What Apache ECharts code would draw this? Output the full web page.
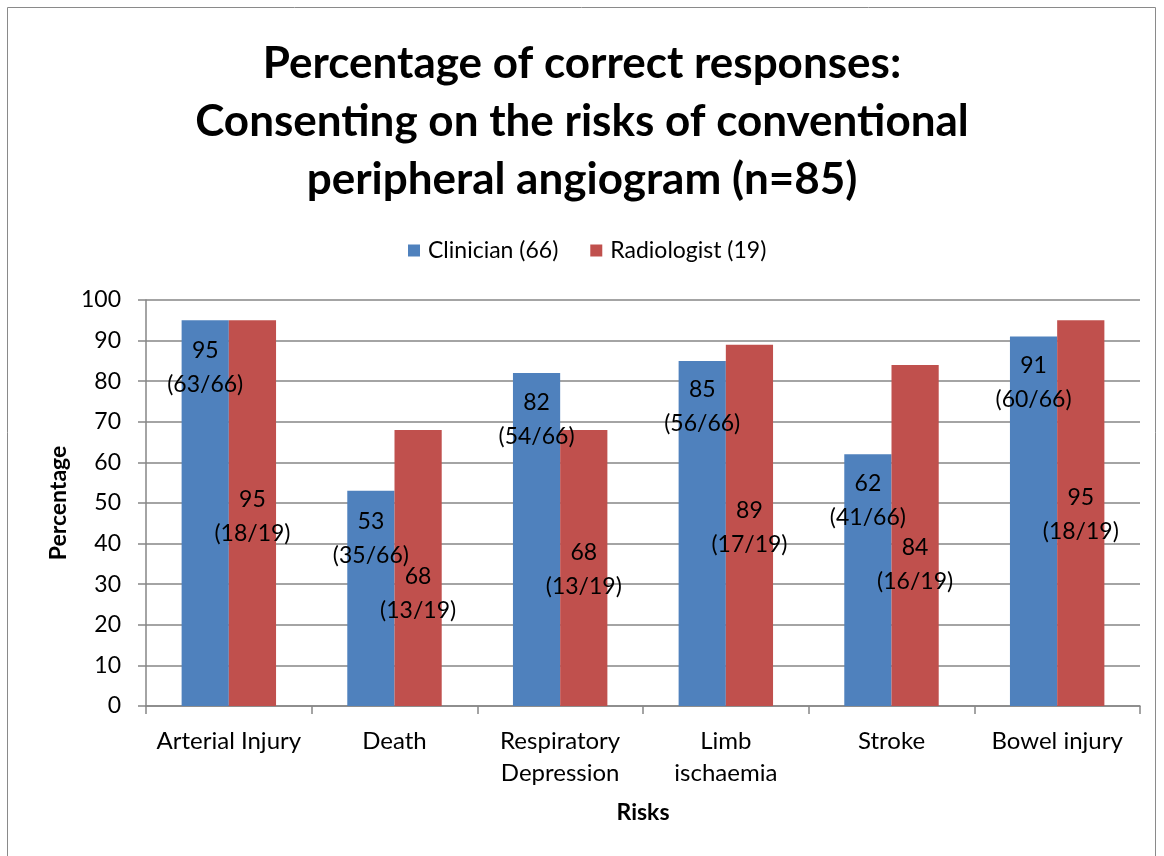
<!DOCTYPE html>
<html>
<head>
<meta charset="utf-8">
<script src="https://cdn.jsdelivr.net/npm/echarts@6/dist/echarts.min.js"></script>
<style>
  html, body { margin: 0; padding: 0; background: #fff; }
  #chart { width: 1164px; height: 856px; }
</style>
</head>
<body>
<div id="chart"></div>
<script>
// Datos
const risks = ['Arterial Injury', 'Death', 'Respiratory\nDepression', 'Limb\nischaemia', 'Stroke', 'Bowel injury'];
const clinicianPct = [95, 53, 82, 85, 62, 91];
const radiologistPct = [95, 68, 68, 89, 84, 95];
const clinicianCorrect = [63, 35, 54, 56, 41, 60];
const radiologistCorrect = [18, 13, 13, 17, 16, 18];
const clinicianN = 66;
const radiologistN = 19;

// Desplazamiento vertical de las etiquetas (px), como en el original
const clinicianShift = [-146, -60, -120, -127, -80, -139];
const radiologistShift = [3, 26, 2, 2, 29, 1];

const FONT = 'Lato';
const chart = echarts.init(document.getElementById('chart'));

function buildData(values, shift) {
    return values.map((v, i) => ({ value: v, label: { offset: [0, shift[i]] } }));
}

const option = {
    animation: false,
    textStyle: { fontFamily: FONT },
    title: {
        text: 'Percentage of correct responses:\nConsenting on the risks of conventional\nperipheral angiogram (n=85)',
        left: 'center',
        top: 30,
        textStyle: { fontFamily: FONT, fontSize: 44, fontWeight: 'bold', lineHeight: 58, color: '#000' }
    },
    legend: {
        top: 234,
        left: 403,
        itemWidth: 12,
        itemHeight: 12,
        itemGap: 32,
        icon: 'rect',
        textStyle: { fontFamily: FONT, fontSize: 23, color: '#000', padding: [0, 0, 0, 3] },
        data: ['Clinician (66)', 'Radiologist (19)']
    },
    graphic: [{
        type: 'rect',
        shape: { x: 7.5, y: 7.5, width: 1148, height: 900 },
        style: { fill: 'none', stroke: '#8a8a8a', lineWidth: 1 },
        silent: true
    }],
    grid: { left: 146, right: 24, top: 300, bottom: 150 },
    xAxis: {
        type: 'category',
        data: risks,
        name: 'Risks',
        nameLocation: 'middle',
        nameGap: 95,
        nameTextStyle: { fontFamily: FONT, fontSize: 23, fontWeight: 'bold', color: '#000' },
        axisLine: { lineStyle: { color: '#868686', width: 1.5 } },
        axisTick: { show: true, interval: 0, length: 8, lineStyle: { color: '#868686', width: 1.5 } },
        axisLabel: { interval: 0, margin: 19, fontSize: 24, lineHeight: 32, color: '#000', fontFamily: FONT }
    },
    yAxis: {
        type: 'value',
        min: 0,
        max: 100,
        interval: 10,
        name: 'Percentage',
        nameLocation: 'middle',
        nameGap: 74,
        nameRotate: 90,
        nameTextStyle: { fontFamily: FONT, fontSize: 23, fontWeight: 'bold', color: '#000' },
        axisLine: { show: true, lineStyle: { color: '#868686', width: 1.5 } },
        axisTick: { show: true, length: 8, lineStyle: { color: '#868686', width: 1.5 } },
        axisLabel: { margin: 25, fontSize: 23, color: '#000', fontFamily: FONT },
        splitLine: { lineStyle: { color: '#868686', width: 1.5 } }
    },
    series: [
        {
            name: 'Clinician (66)',
            type: 'bar',
            barGap: '0%',
            barCategoryGap: '43%',
            itemStyle: { color: '#4F81BD' },
            label: {
                show: true,
                position: 'inside',
                fontFamily: FONT,
                fontSize: 23,
                lineHeight: 34,
                color: '#000',
                formatter: p => p.value + '\n(' + clinicianCorrect[p.dataIndex] + '/' + clinicianN + ')'
            },
            data: buildData(clinicianPct, clinicianShift)
        },
        {
            name: 'Radiologist (19)',
            type: 'bar',
            barGap: '0%',
            barCategoryGap: '43%',
            itemStyle: { color: '#C0504D' },
            label: {
                show: true,
                position: 'inside',
                fontFamily: FONT,
                fontSize: 23,
                lineHeight: 34,
                color: '#000',
                formatter: p => p.value + '\n(' + radiologistCorrect[p.dataIndex] + '/' + radiologistN + ')'
            },
            data: buildData(radiologistPct, radiologistShift)
        }
    ]
};

chart.setOption(option);
</script>
</body>
</html>
